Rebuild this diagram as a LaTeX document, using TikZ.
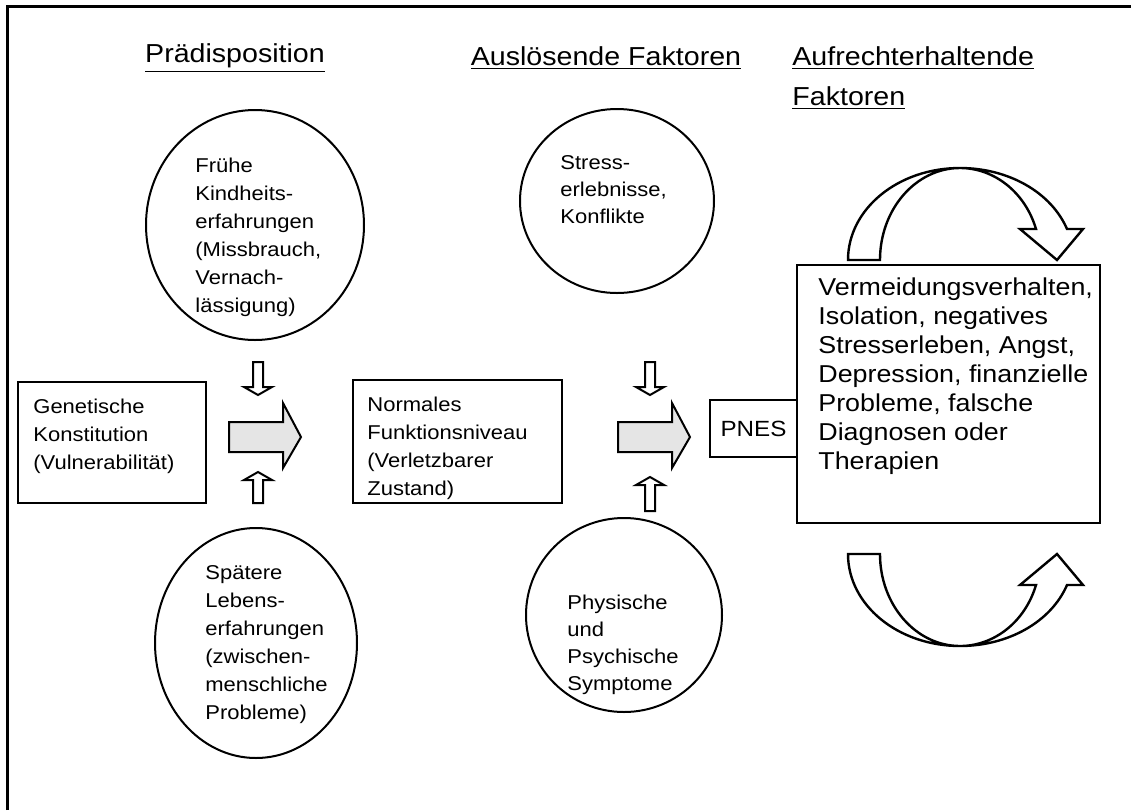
\documentclass[tikz,border=0pt]{standalone}
\usepackage{fontspec}
\setmainfont{Liberation Sans}[FakeStretch=1.1]
\usepackage{tikz}
\usetikzlibrary{shapes.geometric}

\begin{document}
\begin{tikzpicture}[x=0.5pt, y=-0.5pt,
    frame/.style = {line width=1.5pt},
    kreis/.style = {draw, ellipse, line width=1pt, inner sep=0},
    kasten/.style = {draw, rectangle, line width=1.2pt, inner sep=0},
    txt/.style = {inner sep=0, align=left, anchor=west, font=\fontsize{10}{14}\selectfont},
    head/.style = {inner sep=0, align=left, font=\fontsize{13}{20}\selectfont},
    pfeil/.style = {draw, line width=1pt, fill=white},
    block/.style = {draw, line width=1pt, fill=black!10},
    bogen/.style = {draw, line width=1.2pt, fill=white, line join=miter},
    ]
    \useasboundingbox (0,0) rectangle (1131,810);
    \draw[frame] (7,810) -- (7,6) -- (1131,6);

    % Ueberschriften
    \node[head] (hpraed) at (235,58) {\underline{Prädisposition}};
    \node[head] (hausl) at (606,58) {\underline{Auslösende Faktoren}};
    \node[head, anchor=west] (haufr) at (792,78) {\underline{Aufrechterhaltende}\\\underline{Faktoren}};

    % Kreise
    \node[kreis, minimum width=109pt, minimum height=115pt] (kindheit) at (255,225) {};
    \node[txt] (tkindheit) at (195,237) {Frühe\\Kindheits-\\erfahrungen\\(Missbrauch,\\Vernach-\\lässigung)};
    \node[kreis, minimum width=97pt, minimum height=92pt] (stress) at (617,201) {};
    \node[txt, font=\fontsize{10}{13.5}\selectfont] (tstress) at (560,190) {Stress-\\erlebnisse,\\Konflikte};
    \node[kreis, minimum width=101pt, minimum height=115pt] (spaeter) at (256,643) {};
    \node[txt] (tspaeter) at (205,645) {Spätere\\Lebens-\\erfahrungen\\(zwischen-\\menschliche\\Probleme)};
    \node[kreis, minimum width=98pt, minimum height=97pt] (symptom) at (624,615) {};
    \node[txt, font=\fontsize{10}{13.5}\selectfont] (tsymptom) at (567,645) {Physische\\und\\Psychische\\Symptome};

    % Kaesten
    \node[kasten, minimum width=94pt, minimum height=60.5pt] (genetik) at (112,442.5) {};
    \node[txt] (tgenetik) at (33,436) {Genetische\\Konstitution\\(Vulnerabilität)};
    \node[kasten, minimum width=104.5pt, minimum height=61.5pt] (normal) at (457.5,441.5) {};
    \node[txt] (tnormal) at (367,448.5) {Normales\\Funktionsniveau\\(Verletzbarer\\Zustand)};
    \node[kasten, minimum width=43.5pt, minimum height=28.5pt, font=\fontsize{11}{12}\selectfont] (pnes) at (753.5,428.5) {PNES};
    \node[kasten, minimum width=151.5pt, minimum height=129pt] (aufrecht) at (948.5,394) {};
    \node[txt, font=\fontsize{12.2}{14.5}\selectfont] (taufrecht) at (818,376) {Vermeidungsverhalten,\\Isolation, negatives\\Stresserleben, Angst,\\Depression, finanzielle\\Probleme, falsche\\Diagnosen oder\\Therapien};

    % Blockpfeile
    \foreach \dx in {0,389}
        \draw[block] (229+\dx,422) -- (283+\dx,422) -- (283+\dx,403) -- (301+\dx,437)
            -- (283+\dx,468) -- (283+\dx,452) -- (229+\dx,452) -- cycle;
    \foreach \cx in {258,650}
        \draw[pfeil] (\cx-5,362) -- (\cx+5,362) -- (\cx+5,387) -- (\cx+14,387) -- (\cx,395)
            -- (\cx-14,387) -- (\cx-5,387) -- cycle;
    \foreach \cx/\tip/\bot in {258/472/503, 650/477/511}
        \draw[pfeil] (\cx,\tip) -- (\cx+14,\tip+8) -- (\cx+5,\tip+8) -- (\cx+5,\bot)
            -- (\cx-5,\bot) -- (\cx-5,\tip+8) -- (\cx-14,\tip+8) -- cycle;

    % Kreislauf
    \draw[bogen] (848,260) .. controls (848,209) and (898,168) .. (960,168)
        .. controls (1008,168) and (1051,192) .. (1067,229) -- (1083,229) -- (1057,260)
        -- (1020,229) -- (1036,229) .. controls (1025,192) and (994,168) .. (960,168)
        .. controls (916,168) and (880,209) .. (880,260) -- cycle;
    \draw[bogen] (848,554) .. controls (848,605) and (898,646) .. (960,646)
        .. controls (1008,646) and (1051,622) .. (1067,585) -- (1083,585) -- (1057,554)
        -- (1020,585) -- (1036,585) .. controls (1025,622) and (994,646) .. (960,646)
        .. controls (916,646) and (880,605) .. (880,554) -- cycle;
\end{tikzpicture}
\end{document}
